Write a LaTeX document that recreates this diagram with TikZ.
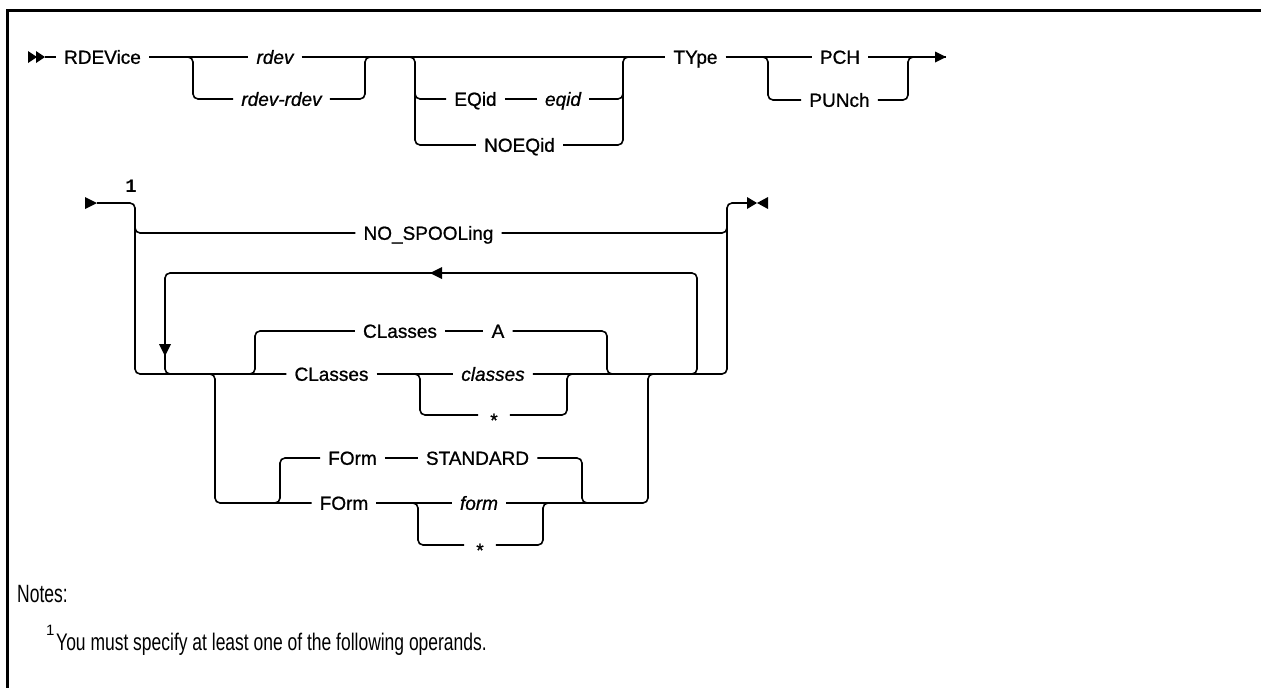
\documentclass[tikz,border=0pt]{standalone}
\usepackage{fontspec}
\usepackage{graphicx}
\setmainfont{Liberation Sans}
\newfontfamily\railfont[FakeBold=0.9]{Liberation Sans}
\newfontfamily\monofam{Liberation Mono}
\usetikzlibrary{calc}
\begin{document}
\begin{tikzpicture}[x=1pt,y=-1pt,
  lbl/.style={font=\fontsize{19}{22}\selectfont\railfont, inner xsep=8pt, inner ysep=0pt, text height=13.6pt, text depth=0pt, anchor=center},
  var/.style={lbl, font=\fontsize{19}{22}\selectfont\railfont\itshape},
  starlbl/.style={lbl, inner xsep=12pt},
  rail/.style={line width=1.6pt, rounded corners=5pt},
  frame/.style={line width=3pt},
  notetext/.style={anchor=base west, inner sep=0pt}
]
\useasboundingbox (0,0) rectangle (1261,688);
\draw[frame] (1261,10) -- (7,10) -- (7,688);

% ---------- row 1 ----------
\node[lbl] (rdevice) at (102.5,57) {RDEVice};
\node[var] (rdev) at (275,57) {rdev};
\node[var] (rdevr) at (281.5,99) {rdev-rdev};
\node[lbl] (eq) at (475.5,99) {EQid};
\node[var] (eqid) at (563,99) {eqid};
\node[lbl] (noeq) at (519.5,145) {NOEQid};
\node[lbl] (type) at (695.5,57) {TYpe};
\node[lbl] (pch) at (840,57) {PCH};
\node[lbl] (punch) at (839.5,100) {PUNch};

\coordinate (start1) at (45,57);
\coordinate (a1) at (193,57);
\coordinate (a2) at (365,57);
\coordinate (b1) at (415,57);
\coordinate (b2) at (623,57);
\coordinate (c1) at (768,57);
\coordinate (c2) at (908,57);
\coordinate (end1) at (946,57);

\fill (28,51) -- (37,57) -- (28,63) -- cycle;
\fill (36,51) -- (45,57) -- (36,63) -- cycle;
\draw[rail] (start1) -- (rdevice.west);
\draw[rail] (rdevice.east) -- (rdev.west);
\draw[rail] (rdev.east) -- (type.west);
\draw[rail] ($(a1)+(-6,0)$) -| (a1|-rdevr.west) -- (rdevr.west);
\draw[rail] (rdevr.east) -| (a2) -- ++(6,0);
\draw[rail] ($(b1)+(-6,0)$) -| (b1|-noeq.west) -- (noeq.west);
\draw[rail] ($(b1|-eq.west)+(0,-8)$) |- (eq.west);
\draw[rail] (eq.east) -- (eqid.west);
\draw[rail] (eqid.east) -| ($(b2|-eqid.east)+(0,-8)$);
\draw[rail] (noeq.east) -| (b2) -- ++(6,0);
\draw[rail] (type.east) -- (pch.west);
\draw[rail] (pch.east) -- (end1);
\fill (946,57) -- (935,51.5) -- (935,62.5) -- cycle;
\draw[rail] ($(c1)+(-6,0)$) -| (c1|-punch.west) -- (punch.west);
\draw[rail] (punch.east) -| (c2) -- ++(6,0);

% ---------- row 2 ----------
\coordinate (s2) at (97,203);
\fill (85,197) -- (97,203) -- (85,209) -- cycle;
\node[font=\fontsize{19}{20}\selectfont\monofam\bfseries, inner sep=0pt] (one) at (131,186) {1};
\coordinate (v0) at (135,374);
\coordinate (v0r) at (727,203);
\coordinate (e2) at (747,203);

\node[lbl] (nos) at (428.5,233) {NO\_SPOOLing};
\node[lbl] (clA) at (400,331) {CLasses};
\node[lbl] (A) at (498,331) {A};
\node[lbl] (cls) at (331.5,374) {CLasses};
\node[var] (classes) at (493,374) {classes};
\node[starlbl] (star1) at (494,415) {\raisebox{-5pt}{*}};
\node[lbl] (fo1) at (352.5,458) {FOrm};
\node[lbl] (std) at (477.5,458) {STANDARD};
\node[lbl] (fo2) at (344,503) {FOrm};
\node[var] (form) at (479,503) {form};
\node[starlbl] (star2) at (480,545) {\raisebox{-5pt}{*}};

\draw[rail] (s2) -| (v0) -- (cls.west);
\draw[rail] ($(s2 -| v0)+(0,22)$) |- (nos.west);
\draw[rail] (nos.east) -| ($(v0r)+(0,22)$);
\draw[rail] (classes.east) -| (v0r) -- (e2);
\fill (747,197) -- (757,203) -- (747,209) -- cycle;
\fill (768,197) -- (757,203) -- (768,209) -- cycle;

% repeat loop
\coordinate (l0) at (165,374);
\coordinate (l1) at (697,374);
\draw[rail] ($(l1)+(-6,0)$) -| ($(l1)+(0,-101)$) -| (l0) -- ++(6,0);
\fill (430,273) -- (442,267) -- (442,279) -- cycle;
\fill (165,356) -- (159,344) -- (171,344) -- cycle;

% CLasses A
\coordinate (h) at (255,374);
\coordinate (i) at (607,374);
\draw[rail] ($(h)+(-6,0)$) -| (h|-clA.west) -- (clA.west);
\draw[rail] (clA.east) -- (A.west);
\draw[rail] (A.east) -| (i) -- ++(6,0);
\draw[rail] (cls.east) -- (classes.west);

% classes / *
\coordinate (j) at (420,374);
\coordinate (k) at (567,374);
\draw[rail] ($(j)+(-6,0)$) -| (j|-star1.west) -- (star1.west);
\draw[rail] (star1.east) -| (k) -- ++(6,0);

% FOrm group
\coordinate (m) at (215,374);
\coordinate (n) at (648,374);
\coordinate (r) at (280,503);
\coordinate (s) at (582,503);
\coordinate (p) at (418,503);
\coordinate (q) at (543,503);
\draw[rail] ($(m)+(-6,0)$) -| (m|-fo2.west) -- (fo2.west);
\draw[rail] (fo2.east) -- (form.west);
\draw[rail] (form.east) -| (n) -- ++(6,0);
\draw[rail] ($(r)+(-6,0)$) -| (r|-fo1.west) -- (fo1.west);
\draw[rail] (fo1.east) -- (std.west);
\draw[rail] (std.east) -| (s) -- ++(6,0);
\draw[rail] ($(p)+(-6,0)$) -| (p|-star2.west) -- (star2.west);
\draw[rail] (star2.east) -| (q) -- ++(6,0);

% ---------- notes ----------
\node[notetext, font=\fontsize{25}{28}\selectfont] (notes) at (17,602) {\scalebox{0.7}[1]{Notes:}};
\node[notetext, font=\fontsize{15}{16}\selectfont] (sup) at (46,635) {1};
\node[notetext, font=\fontsize{24}{28}\selectfont] (note1) at (56,650) {\scalebox{0.728}[1]{You must specify at least one of the following operands.}};
\end{tikzpicture}
\end{document}
